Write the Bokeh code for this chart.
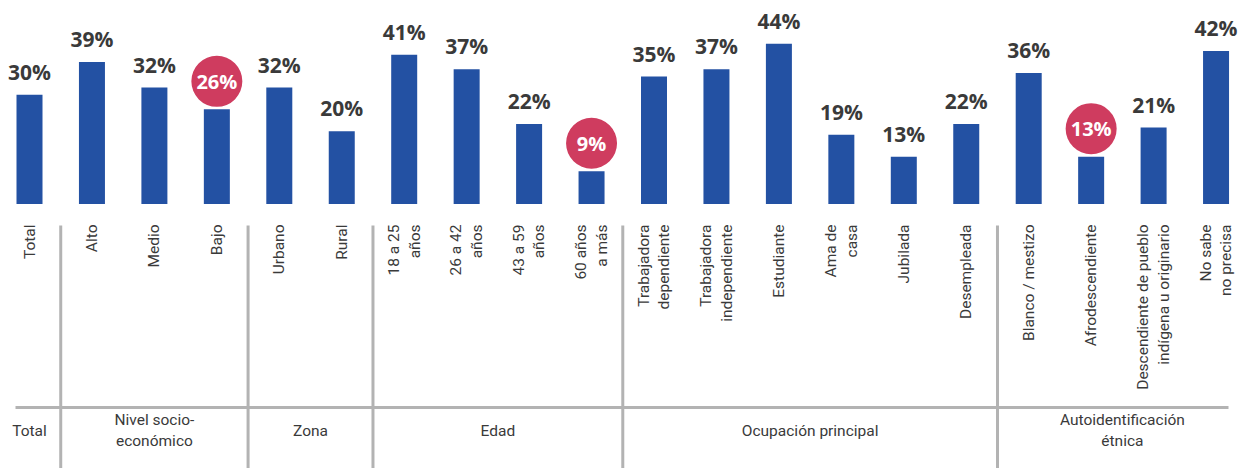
from bokeh.plotting import figure
from bokeh.models import Range1d, ColumnDataSource
from bokeh.core.properties import value
from bokeh.embed import file_html
from bokeh.resources import INLINE
import math

categories = ["Total", "Alto", "Medio", "Bajo", "Urbano", "Rural",
              "18 a 25\naños", "26 a 42\naños", "43 a 59\naños", "60 años\na más",
              "Trabajadora\ndependiente", "Trabajadora\nindependiente", "Estudiante",
              "Ama de\ncasa", "Jubilada", "Desempleada",
              "Blanco / mestizo", "Afrodescendiente",
              "Descendiente de pueblo\nindígena u originario", "No sabe\nno precisa"]
values = [30, 39, 32, 26, 32, 20, 41, 37, 22, 9, 35, 37, 44, 19, 13, 22, 36, 13, 21, 42]
highlight = [False, False, False, True, False, False, False, False, False, True,
             False, False, False, False, False, False, False, True, False, False]
groups = ["Total", "Nivel socio-\neconómico", "Zona", "Edad", "Ocupación principal",
          "Autoidentificación\nétnica"]
group_sizes = [1, 3, 2, 4, 6, 4]

BAR = "#2351A3"
RED = "#CF3C5F"
GREY = "#B3B3B3"
TXT = "#3A3A3A"
NARROW = "Roboto"

# pixel geometry -> data ranges
W, H = 1247, 468
px_per_cat = 62.45
px_per_pct = 3.64
base_px = 203.5
x0 = (0 - 29) / px_per_cat
x1 = (W - 29) / px_per_cat
y_top = base_px / px_per_pct
y_bot = (base_px - H) / px_per_pct


def ys(screen_y):
    return (base_px - screen_y) / px_per_pct


def xs_(screen_x):
    return (screen_x - 29) / px_per_cat


p = figure(width=W, height=H, output_backend="svg", toolbar_location=None,
           x_range=Range1d(x0, x1), y_range=Range1d(y_bot, y_top),
           min_border=0, outline_line_color=None)
p.axis.visible = False
p.grid.visible = False

n = len(values)
xs = list(range(n))
src = ColumnDataSource(dict(x=xs, v=values, lab=[f"{v}%" for v in values], cat=categories))
p.vbar(x="x", top="v", bottom=0, width=26 / px_per_cat, source=src,
       fill_color=BAR, line_color=None)

# normal value labels
nx = [x for x, h in zip(xs, highlight) if not h]
nv = [v for v, h in zip(values, highlight) if not h]
p.text(x=nx, y=nv, text=[f"{v}%" for v in nv], y_offset=-23,
       text_align="center", text_baseline="alphabetic",
       text_font=value("Open Sans"), text_font_style="bold",
       text_font_size="21px", text_color=TXT)

# highlighted labels in circles
hx = [x for x, h in zip(xs, highlight) if h]
hv = [v for v, h in zip(values, highlight) if h]
cy = [v + 28 / px_per_pct for v in hv]
p.circle(x=hx, y=cy, radius=25.5, radius_units="screen",
         fill_color=RED, line_color=None)
p.text(x=hx, y=cy, text=[f"{v}%" for v in hv], y_offset=0,
       text_align="center", text_baseline="middle",
       text_font=value("Open Sans"), text_font_style="bold",
       text_font_size="20px", text_color="white")

# rotated category labels
p.text(x="x", y=ys(224), text="cat", source=src, angle=math.pi / 2,
       text_align="right", text_baseline="middle",
       text_font=value(NARROW), text_font_size="15.5px",
       text_line_height=1.15, text_color=TXT)

# separators
bounds = []
acc = 0
for s in group_sizes[:-1]:
    acc += s
    bounds.append(acc - 0.5)
p.segment(x0=bounds, y0=[ys(225)] * len(bounds), x1=bounds, y1=[y_bot] * len(bounds),
          line_color=GREY, line_width=3)
p.segment(x0=[xs_(15)], y0=[ys(407)], x1=[xs_(1228)],
          y1=[ys(407)], line_color=GREY, line_width=3)

# group labels
gx = []
acc = 0
for s in group_sizes:
    gx.append(acc + (s - 1) / 2)
    acc += s
p.text(x=gx, y=ys(430), text=groups, text_align="center", text_baseline="middle",
       text_font=value(NARROW), text_font_size="15.5px", text_line_height=1.2,
       text_color=TXT)

open("out.html", "w").write(file_html(p, INLINE))
